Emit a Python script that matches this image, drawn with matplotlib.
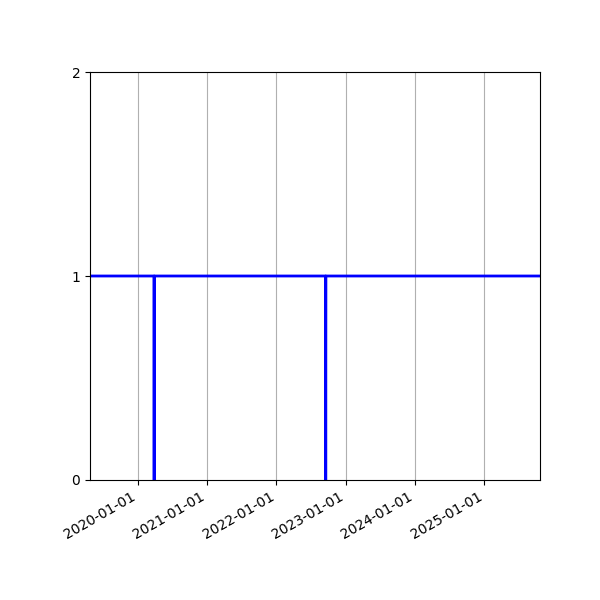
import numpy as np
import matplotlib
matplotlib.use("Agg")
import matplotlib.pyplot as plt
import matplotlib.dates as mdates

# status series: 1 everywhere except two single days at 0
dates = np.array(["2019-04-01", "2020-03-27", "2020-03-28", "2020-03-29",
                  "2022-09-17", "2022-09-18", "2022-09-19", "2025-12-01"],
                 dtype="datetime64[D]")
values = [1, 1, 0, 1, 1, 0, 1, 1]
x_start = np.datetime64("2019-04-25")
x_end = np.datetime64("2025-10-21")
yticks = [0, 1, 2]

fig, ax = plt.subplots(figsize=(6, 6), dpi=100)
fig.subplots_adjust(left=0.15, right=0.9, top=0.88, bottom=0.2)

ax.plot(dates, values, color="blue", linewidth=2)
ax.set_xlim(x_start, x_end)
ax.set_ylim(0, 2)
ax.set_yticks(yticks)
ax.xaxis.set_major_locator(mdates.YearLocator())
ax.xaxis.set_major_formatter(mdates.DateFormatter("%Y-%m-%d"))
ax.grid(axis="x", color="#b0b0b0")
ax.set_axisbelow(True)
plt.setp(ax.get_xticklabels(), rotation=30, ha="right")

fig.savefig("out.png")
